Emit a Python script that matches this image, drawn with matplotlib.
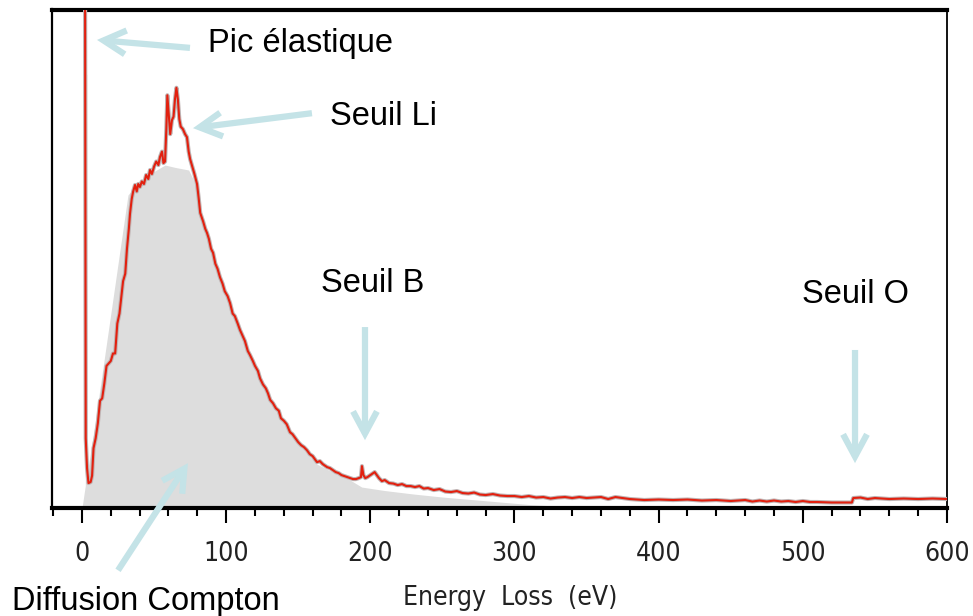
import matplotlib
matplotlib.use("Agg")
import matplotlib.pyplot as plt
from matplotlib.patches import ArrowStyle
from matplotlib import font_manager
import matplotlib.patheffects as pe

# Measured EELS spectrum (energy loss in eV, counts in arbitrary units)
energy = [2.0, 2.6, 3.5, 4.5, 6.0, 7.0, 8.0, 9.5, 11, 12.5, 14, 15.5, 17, 18.5, 20,
          21.5, 23, 24.5, 26, 27.5, 28.5, 30, 31.2, 32.5, 33.3, 34.5, 35.5, 36.8, 38,
          39, 40.2, 41.5, 43, 44.5, 46, 47.2, 48.5, 50, 51.5, 53, 54.1, 55.5, 56.5,
          57.6, 58.5, 59.2, 60.2, 61.2, 62.4, 63.5, 64.5, 65.5, 66.5, 67.5, 68.5, 70,
          71.5, 72.8, 74, 75, 76.5, 78, 79.8, 81, 82, 84, 85.5, 86.7, 88, 89.5, 90.9,
          92.5, 94, 95.7, 97.5, 99, 101, 102.7, 104.5, 106, 108, 109.6, 111.5, 113,
          115, 116.5, 118.5, 120, 122, 123.5, 125.5, 127.5, 129, 130.5, 132.5, 134.5,
          136.5, 138, 140, 142, 144.3, 146, 148, 150, 152, 154, 156, 158, 160, 163,
          165, 167, 170, 172, 174, 176, 178, 180, 182, 184, 186, 188, 190, 192, 193.5,
          194.2, 195.2, 196.5, 198, 200, 202, 203, 204.5, 206, 208, 210, 213, 216, 219,
          222, 225, 228, 231, 234, 237, 240, 244, 248, 252, 256, 260, 264, 268, 272,
          276, 280, 285, 290, 295, 300, 305, 310, 315, 320, 325, 330, 335, 340, 345,
          350, 355, 360, 365, 370, 375, 380, 390, 400, 410, 420, 430, 440, 450, 460,
          465, 470, 475, 480, 485, 490, 495, 500, 505, 510, 520, 530, 534, 535, 540,
          545, 550, 560, 570, 580, 590, 600]
counts = [130, 14, 8, 5.0, 5.2, 6.5, 12, 14, 17, 21.5, 22, 25, 28.5, 29, 29.5,
          31, 31, 37, 39, 43, 45.5, 47, 52, 56, 59, 62, 63.5, 64.8, 63.5,
          65, 64.4, 65.5, 65, 66.8, 66, 67.8, 67, 68.5, 69.5, 68.8, 70.4, 71.5, 69.2,
          69.5, 76, 82.8, 79, 75, 77.8, 78.5, 82, 84.3, 82, 78, 76.5, 76,
          75, 74.4, 71.5, 70, 68.5, 67, 65, 62, 59.2, 57.5, 56, 55.2, 54, 52, 51.2,
          49, 48, 46.3, 45, 43.5, 42.5, 41.1, 39, 38.5, 37, 35.7, 34.5, 33.5,
          31.5, 30.7, 29.5, 28.5, 27.5, 26, 24.8, 24, 23, 21.7, 21, 20,
          19.5, 18, 17.5, 16.8, 15.2, 14.8, 14, 13.2, 12.6, 12.2, 11.6, 10.8, 10.4, 9.2,
          9.4, 8.8, 8.2, 8.0, 7.6, 7.2, 7.0, 6.6, 6.4, 6.2, 6.0, 5.8, 5.8, 6.0, 6.2,
          8.4, 6.6, 6.0, 6.2, 6.6, 7.0, 7.2, 6.6, 6.0, 5.4, 5.6, 5.0, 4.9, 4.6,
          4.8, 4.4, 4.4, 4.2, 4.4, 3.9, 4.0, 3.6, 3.8, 3.3, 3.2, 3.4, 3.0, 2.9, 3.1,
          2.7, 2.6, 2.8, 2.5, 2.4, 2.4, 2.2, 2.4, 2.1, 2.2, 1.9, 2.1, 2.2, 2.0, 2.2,
          2.0, 2.1, 2.2, 1.8, 2.2, 2.0, 1.8, 1.6, 1.7, 1.6, 1.7, 1.5, 1.6, 1.4, 1.6,
          1.3, 1.5, 1.3, 1.5, 1.3, 1.4, 1.2, 1.4, 1.2, 1.2, 1.1, 1.1, 1.1, 2.0, 2.1,
          1.8, 2.0, 1.8, 1.9, 1.8, 1.9, 1.8]

# Compton scattering background (shaded)
energy_compton = [0, 2.3, 2.4, 3.3, 3.4, 8, 16, 24, 31.9, 40, 47, 57.6, 65, 74, 77,
                  80, 82, 86.7, 90.9, 95.7, 102.7, 109.6, 116.5, 123.5, 130.5, 137.3,
                  144.3, 151, 163, 174, 186, 194, 210, 230, 250, 270, 290, 310, 322,
                  340, 360]
counts_compton = [0, 4.5, 87, 87, 6.5, 15, 31, 47, 62.8, 65.5, 67, 68.8, 68.3, 67.8,
                  66, 63.5, 58.5, 54.5, 50.5, 45.8, 40.5, 35, 30, 25.5, 21.2, 18.5,
                  14.8, 12.5, 8.8, 7.2, 5.6, 4.2, 3.5, 2.8, 2.2, 1.7, 1.2, 0.7, 0.5,
                  0.2, 0]

x_ticks = [0, 100, 200, 300, 400, 500, 600]

# Annotations: (label, text position px, arrow tail (eV, counts), arrow head (eV, counts))
labels = ["Pic élastique", "Seuil Li", "Seuil B", "Seuil O", "Diffusion Compton"]
label_pos = [(208, 52), (330, 125), (321, 292), (802, 303), (12, 610)]
arrow_tail = [(74.9, 92.3), (159.5, 79.2), (196.3, 36.3), (536.2, 31.7), (25.0, -12.5)]
arrow_head = [(10.4, 93.9), (77.0, 76.2), (196.3, 13.6), (536.2, 9.0), (73.5, 9.0)]

# Narrow face for the axis text
axis_font = font_manager.FontProperties(family="DejaVu Sans", stretch="condensed",
                                        size=19)

W, H = 973, 616
fig = plt.figure(figsize=(W / 100, H / 100), dpi=100)
ax = fig.add_axes([52 / W, 1 - 508 / H, (947 - 52) / W, (508 - 9.5) / H])

ax.fill_between(energy_compton, counts_compton, 0, color="#dddddd", lw=0, zorder=1)
ax.plot(energy, counts, color="#e2200f", lw=1.5, zorder=3,
        path_effects=[pe.Stroke(linewidth=3.0, foreground="#c0b4b4"), pe.Normal()])

ax.set_xlim(-20.8, 600)
ax.set_ylim(0, 100)
ax.set_yticks([])

ax.set_xticks(x_ticks)
ax.set_xticks(range(-20, 601, 20), minor=True)
ax.set_xticklabels([str(t) for t in x_ticks], fontproperties=axis_font,
                   color="#222222")
ax.tick_params(axis="x", which="major", direction="out", length=11, width=1.5,
               pad=13)
ax.tick_params(axis="x", which="minor", direction="out", length=5.5, width=1.5)

ax.spines["top"].set_linewidth(3.0)
ax.spines["bottom"].set_linewidth(3.0)
ax.spines["left"].set_linewidth(1.6)
ax.spines["right"].set_linewidth(1.3)

ax.set_xlabel("Energy  Loss  (eV)", fontproperties=axis_font, color="#222222")
ax.xaxis.set_label_coords((510 - 52) / (947 - 52), (508 - 598) / (508 - 9.5))
ax.xaxis.label.set_va("center")

arrow_color = "#c4e3e7"
style = ArrowStyle("->", head_length=16, head_width=8.6)
for tail, head in zip(arrow_tail, arrow_head):
    ax.annotate("", xy=head, xytext=tail, xycoords="data", textcoords="data",
                annotation_clip=False,
                arrowprops=dict(arrowstyle=style, mutation_scale=1, lw=4.5,
                                color=arrow_color, shrinkA=0, shrinkB=0,
                                capstyle="butt", joinstyle="miter"),
                zorder=5)

text_font = ["Liberation Sans", "DejaVu Sans"]
for text, (px, py) in zip(labels, label_pos):
    fig.text(px / W, 1 - py / H, text, fontsize=23.5, family=text_font,
             ha="left", va="baseline", color="black")

fig.savefig("out.png", dpi=100)
